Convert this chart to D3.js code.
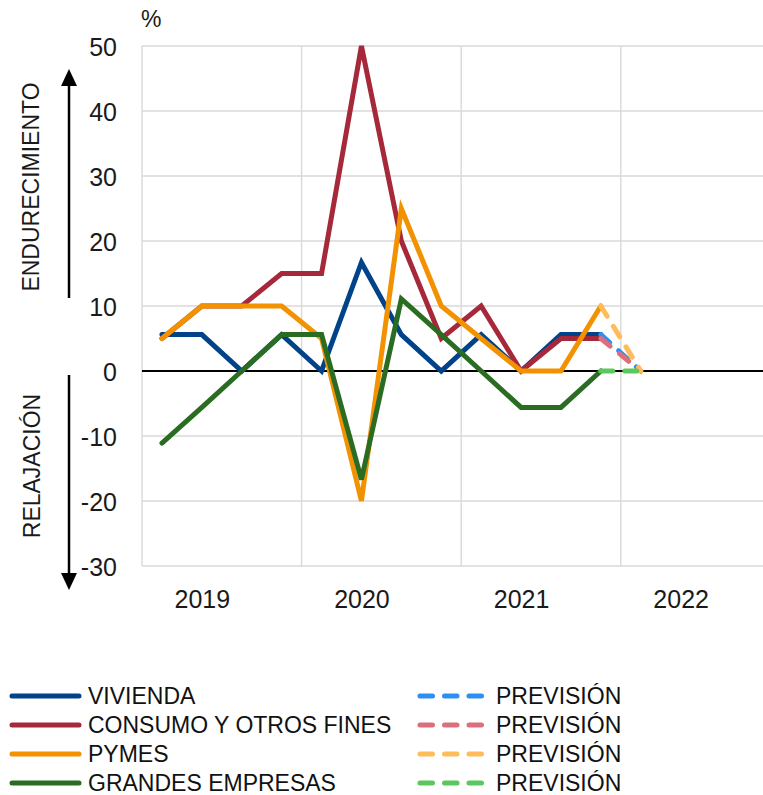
<!DOCTYPE html>
<html>
<head>
<meta charset="utf-8">
<script src="https://cdn.jsdelivr.net/npm/d3@7/dist/d3.min.js"></script>
<style>
  html, body { margin: 0; padding: 0; background: #fff; }
  svg { display: block; font-family: "Liberation Sans", Arial, sans-serif; }
</style>
</head>
<body>
<svg id="chart" width="763" height="795"></svg>
<script>
// Quarterly observations, 2019 Q1 – 2021 Q4, plus the 2022 Q1 expectation
const quarters = ["I-19","II-19","III-19","IV-19","I-20","II-20","III-20","IV-20","I-21","II-21","III-21","IV-21","I-22"];
const years = ["2019", "2020", "2021", "2022"];
const yTicks = [-30, -20, -10, 0, 10, 20, 30, 40, 50];

const vivienda = [5.6, 5.6, 0, 5.6, 0, 16.7, 5.6, 0, 5.6, 0, 5.6, 5.6];
const consumo  = [5, 10, 10, 15, 15, 50, 20, 5, 10, 0, 5, 5];
const pymes    = [5, 10, 10, 10, 5, -20, 25, 10, 5, 0, 0, 10];
const grandes  = [-11.1, -5.6, 0, 5.6, 5.6, -16.7, 11.1, 5.6, 0, -5.6, -5.6, 0];

// Expected change for the next quarter (drawn from the last observed quarter)
const previsionVivienda = [5.6, 0];
const previsionConsumo  = [5, 0];
const previsionPymes    = [10, 0];
const previsionGrandes  = [0, 0];

const seriesNames = ["VIVIENDA", "CONSUMO Y OTROS FINES", "PYMES", "GRANDES EMPRESAS"];
const solidColors = ["#004389", "#a5293b", "#f39200", "#2a6c22"];
const dashColors  = ["#2b90f2", "#d9707b", "#ffbc5a", "#5cc75c"];
const forecastLabel = "PREVISIÓN";

const solidSeries = [vivienda, consumo, pymes, grandes];
const forecastSeries = [previsionVivienda, previsionConsumo, previsionPymes, previsionGrandes];

const svg = d3.select("#chart");

const plotLeft = 142, plotTop = 46, plotBottom = 566, step = 39.9;
const x = d3.scaleLinear().domain([-0.5, 15.5]).range([plotLeft, plotLeft + 16 * step]);
const y = d3.scaleLinear().domain([-30, 50]).range([plotBottom, plotTop]);

// Grid
const grid = svg.append("g");
grid.selectAll("line.h").data(yTicks).join("line")
  .attr("x1", x(-0.5)).attr("x2", x(15.5))
  .attr("y1", d => y(d)).attr("y2", d => y(d))
  .attr("stroke", "#d9d9d9").attr("stroke-width", 1.4);
grid.selectAll("line.v").data([-0.5, 3.5, 7.5, 11.5, 15.5]).join("line")
  .attr("x1", d => x(d)).attr("x2", d => x(d))
  .attr("y1", y(50)).attr("y2", y(-30))
  .attr("stroke", "#d9d9d9").attr("stroke-width", 1.4);

// Zero line
svg.append("line")
  .attr("x1", x(-0.5)).attr("x2", x(15.5))
  .attr("y1", y(0)).attr("y2", y(0))
  .attr("stroke", "#000").attr("stroke-width", 2);

// Y axis labels (plain hyphen for negatives)
const yAxis = d3.axisLeft(y).tickValues(yTicks).tickSize(0).tickPadding(0).tickFormat(d => String(d));
svg.append("g").attr("transform", `translate(117,0)`).call(yAxis)
  .call(g => g.select(".domain").remove())
  .call(g => g.selectAll("text")
    .attr("font-size", 25).attr("fill", "#1a1a1a")
    .attr("font-family", "Liberation Sans, Arial, sans-serif")
    .attr("dy", "0.36em"));

// Year labels
const xAxis = d3.axisBottom(x).tickValues([1, 5, 9, 13]).tickSize(0).tickPadding(0)
  .tickFormat((d, i) => years[i]);
svg.append("g").attr("transform", `translate(0,590)`).call(xAxis)
  .call(g => g.select(".domain").remove())
  .call(g => g.selectAll("text")
    .attr("font-size", 25).attr("fill", "#1a1a1a")
    .attr("font-family", "Liberation Sans, Arial, sans-serif")
    .attr("dy", "0.71em"));

// Unit
svg.append("text").attr("x", 141).attr("y", 27).attr("font-size", 23).attr("fill", "#1a1a1a").text("%");

// Direction arrows and labels
const arrowX = 69;
svg.append("line").attr("x1", arrowX).attr("x2", arrowX).attr("y1", 298).attr("y2", 84)
  .attr("stroke", "#000").attr("stroke-width", 2.5);
svg.append("path").attr("d", `M${arrowX},69 L${arrowX - 8},86 L${arrowX + 8},86 Z`).attr("fill", "#000");
svg.append("line").attr("x1", arrowX).attr("x2", arrowX).attr("y1", 375).attr("y2", 576)
  .attr("stroke", "#000").attr("stroke-width", 2.5);
svg.append("path").attr("d", `M${arrowX},590 L${arrowX - 8},573 L${arrowX + 8},573 Z`).attr("fill", "#000");

svg.append("text")
  .attr("transform", `translate(39,187) rotate(-90)`)
  .attr("text-anchor", "middle").attr("font-size", 23).attr("fill", "#1a1a1a")
  .text("ENDURECIMIENTO");
svg.append("text")
  .attr("transform", `translate(40,466) rotate(-90)`)
  .attr("text-anchor", "middle").attr("font-size", 23).attr("fill", "#1a1a1a")
  .text("RELAJACIÓN");

// Series lines
const line = d3.line().x(d => x(d[0])).y(d => y(d[1]));
const plot = svg.append("g");

solidSeries.forEach((vals, k) => {
  plot.append("path")
    .datum(vals.map((v, i) => [i, v]))
    .attr("d", line)
    .attr("fill", "none")
    .attr("stroke", solidColors[k])
    .attr("stroke-width", 5)
    .attr("stroke-linejoin", "miter")
    .attr("stroke-linecap", "round");
});

forecastSeries.forEach((vals, k) => {
  plot.append("path")
    .datum(vals.map((v, i) => [quarters.length - 2 + i, v]))
    .attr("d", line)
    .attr("fill", "none")
    .attr("stroke", dashColors[k])
    .attr("stroke-width", 5)
    .attr("stroke-dasharray", "12,12")
    .attr("stroke-linecap", "round");
});

// Legend
const legend = svg.append("g");
const rowY = [696, 725, 754, 783];
seriesNames.forEach((name, k) => {
  legend.append("line").attr("x1", 12).attr("x2", 79).attr("y1", rowY[k]).attr("y2", rowY[k])
    .attr("stroke", solidColors[k]).attr("stroke-width", 5).attr("stroke-linecap", "round");
  legend.append("text").attr("x", 88).attr("y", rowY[k]).attr("dy", "0.35em")
    .attr("font-size", 23).attr("fill", "#111").text(name);
  legend.append("line").attr("x1", 420).attr("x2", 482).attr("y1", rowY[k]).attr("y2", rowY[k])
    .attr("stroke", dashColors[k]).attr("stroke-width", 5).attr("stroke-linecap", "round")
    .attr("stroke-dasharray", "12.5,12");
  legend.append("text").attr("x", 496).attr("y", rowY[k]).attr("dy", "0.35em")
    .attr("font-size", 23).attr("fill", "#111").text(forecastLabel);
});
</script>
</body>
</html>
